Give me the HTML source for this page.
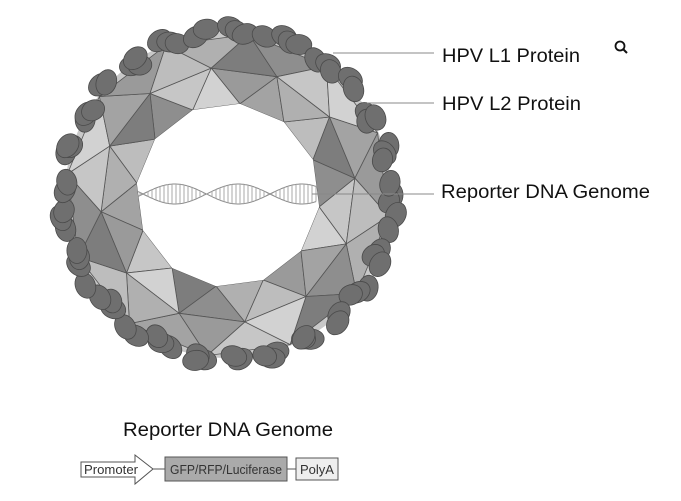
<!DOCTYPE html>
<html><head><meta charset="utf-8"><style>
html,body{margin:0;padding:0;background:#fff;}
svg{display:block;font-family:"Liberation Sans",Arial,sans-serif;}
</style></head><body>
<svg id="s" width="681" height="501" viewBox="0 0 681 501" xmlns="http://www.w3.org/2000/svg">
<g id="ring"></g>
<g id="blobs"></g>
<g id="dna" stroke="#8a8a8a" stroke-width="1" fill="none"></g>
<line x1="333" y1="53" x2="434" y2="53" stroke="#888"/>
<line x1="367" y1="103" x2="434" y2="103" stroke="#888"/>
<line x1="312" y1="194" x2="434" y2="194" stroke="#888"/>
<text x="442" y="62" font-size="19" fill="#111" textLength="138" lengthAdjust="spacingAndGlyphs">HPV L1 Protein</text>
<text x="442" y="110" font-size="19" fill="#111" textLength="139" lengthAdjust="spacingAndGlyphs">HPV L2 Protein</text>
<text x="441" y="198" font-size="19" fill="#111" textLength="209" lengthAdjust="spacingAndGlyphs">Reporter DNA Genome</text>
<circle cx="620" cy="46" r="4.5" fill="none" stroke="#111" stroke-width="1.8"/>
<line x1="623" y1="49" x2="627" y2="53" stroke="#111" stroke-width="2"/>
<text x="123" y="436" font-size="19" fill="#111" textLength="210" lengthAdjust="spacingAndGlyphs">Reporter DNA Genome</text>
<polygon points="81,462 135,462 135,455 153,469 135,484 135,477 81,477" fill="#fff" stroke="#555"/>
<text x="84" y="474" font-size="13" fill="#333" textLength="54" lengthAdjust="spacingAndGlyphs">Promoter</text>
<line x1="153" y1="469" x2="165" y2="469" stroke="#555"/>
<rect x="165" y="457" width="122" height="24" fill="#aaa" stroke="#555"/>
<text x="170" y="474" font-size="13" fill="#333" textLength="112" lengthAdjust="spacingAndGlyphs">GFP/RFP/Luciferase</text>
<line x1="287" y1="469" x2="296" y2="469" stroke="#555"/>
<rect x="296" y="458" width="42" height="22" fill="#eee" stroke="#555"/>
<text x="300" y="474" font-size="13" fill="#333" textLength="34" lengthAdjust="spacingAndGlyphs">PolyA</text>
</svg>
<script>
var NS="http://www.w3.org/2000/svg",cx=228,cy=195;
function P(r,a){return [cx+r*Math.cos(a),cy+r*Math.sin(a)];}
function poly(g,pts,f,st){var p=document.createElementNS(NS,"polygon");p.setAttribute("points",pts.map(function(q){return q[0].toFixed(1)+","+q[1].toFixed(1)}).join(" "));p.setAttribute("fill",f);p.setAttribute("stroke",st||"#555");p.setAttribute("stroke-width","0.8");p.setAttribute("stroke-linejoin","round");g.appendChild(p);}
var ring=document.getElementById("ring");
var c=document.createElementNS(NS,"circle");c.setAttribute("cx",cx);c.setAttribute("cy",cy);c.setAttribute("r",163);c.setAttribute("fill","#c8c8c8");ring.appendChild(c);
var sh=["#a3a3a3","#bdbdbd","#8e8e8e","#d2d2d2","#9a9a9a","#b0b0b0","#7d7d7d","#c6c6c6"];
var N=12,st=2*Math.PI/N,o=-Math.PI/2+0.13,k=0,inner=[];
for(var i=0;i<N;i++){
 var a0=o+i*st,a1=a0+st,am=a0+st/2,ap=am-st;
 var I0=P(92,a0),I1=P(92,a1),M0=P(128,am),Mp=P(128,ap),O0=P(162,a0),O1=P(162,a1);
 inner.push(I0);
 poly(ring,[I0,I1,M0],sh[(k++)%8]);
 poly(ring,[Mp,M0,I0],sh[(k+3)%8]);
 poly(ring,[Mp,M0,O0],sh[(k+5)%8]);
 poly(ring,[O0,O1,M0],sh[(k+1)%8]);
}
poly(ring,inner,"#fff","none");
var bl=document.getElementById("blobs");
function ell(x,y,rx,ry,rot){var e=document.createElementNS(NS,"ellipse");e.setAttribute("cx",x.toFixed(1));e.setAttribute("cy",y.toFixed(1));e.setAttribute("rx",rx);e.setAttribute("ry",ry);e.setAttribute("transform","rotate("+rot.toFixed(0)+" "+x.toFixed(1)+" "+y.toFixed(1)+")");e.setAttribute("fill","#6f6f6f");e.setAttribute("stroke","#4a4a4a");e.setAttribute("stroke-width","0.8");bl.appendChild(e);}
for(var j=0;j<56;j++){
 var a=j*2*Math.PI/56+0.04*Math.sin(j*3);
 var r=165+4*Math.sin(j*1.7);
 var q=P(r,a),deg=a*180/Math.PI;
 ell(q[0],q[1],13,10,deg+90+25*Math.sin(j*2.3));
 if(j%3==0){var q2=P(r-4,a+0.04);ell(q2[0],q2[1],10,12,deg+30);}
}
var d=document.getElementById("dna"),x0=143,hp=63.5,A=10,y0=194;
var p1="",p2="";
for(var x=138;x<=316;x+=1){var y=A*Math.sin((x-x0)/hp*Math.PI);p1+=(x==138?"M":"L")+x+","+(y0-y).toFixed(1);p2+=(x==138?"M":"L")+x+","+(y0+y).toFixed(1);}
[p1,p2].forEach(function(s){var p=document.createElementNS(NS,"path");p.setAttribute("d",s);d.appendChild(p);});
for(var x=140;x<=316;x+=4){var y=A*Math.sin((x-x0)/hp*Math.PI);var l=document.createElementNS(NS,"line");l.setAttribute("x1",x);l.setAttribute("x2",x);l.setAttribute("y1",(y0-y).toFixed(1));l.setAttribute("y2",(y0+y).toFixed(1));l.setAttribute("stroke","#aaa");d.appendChild(l);}
</script>
</body></html>
